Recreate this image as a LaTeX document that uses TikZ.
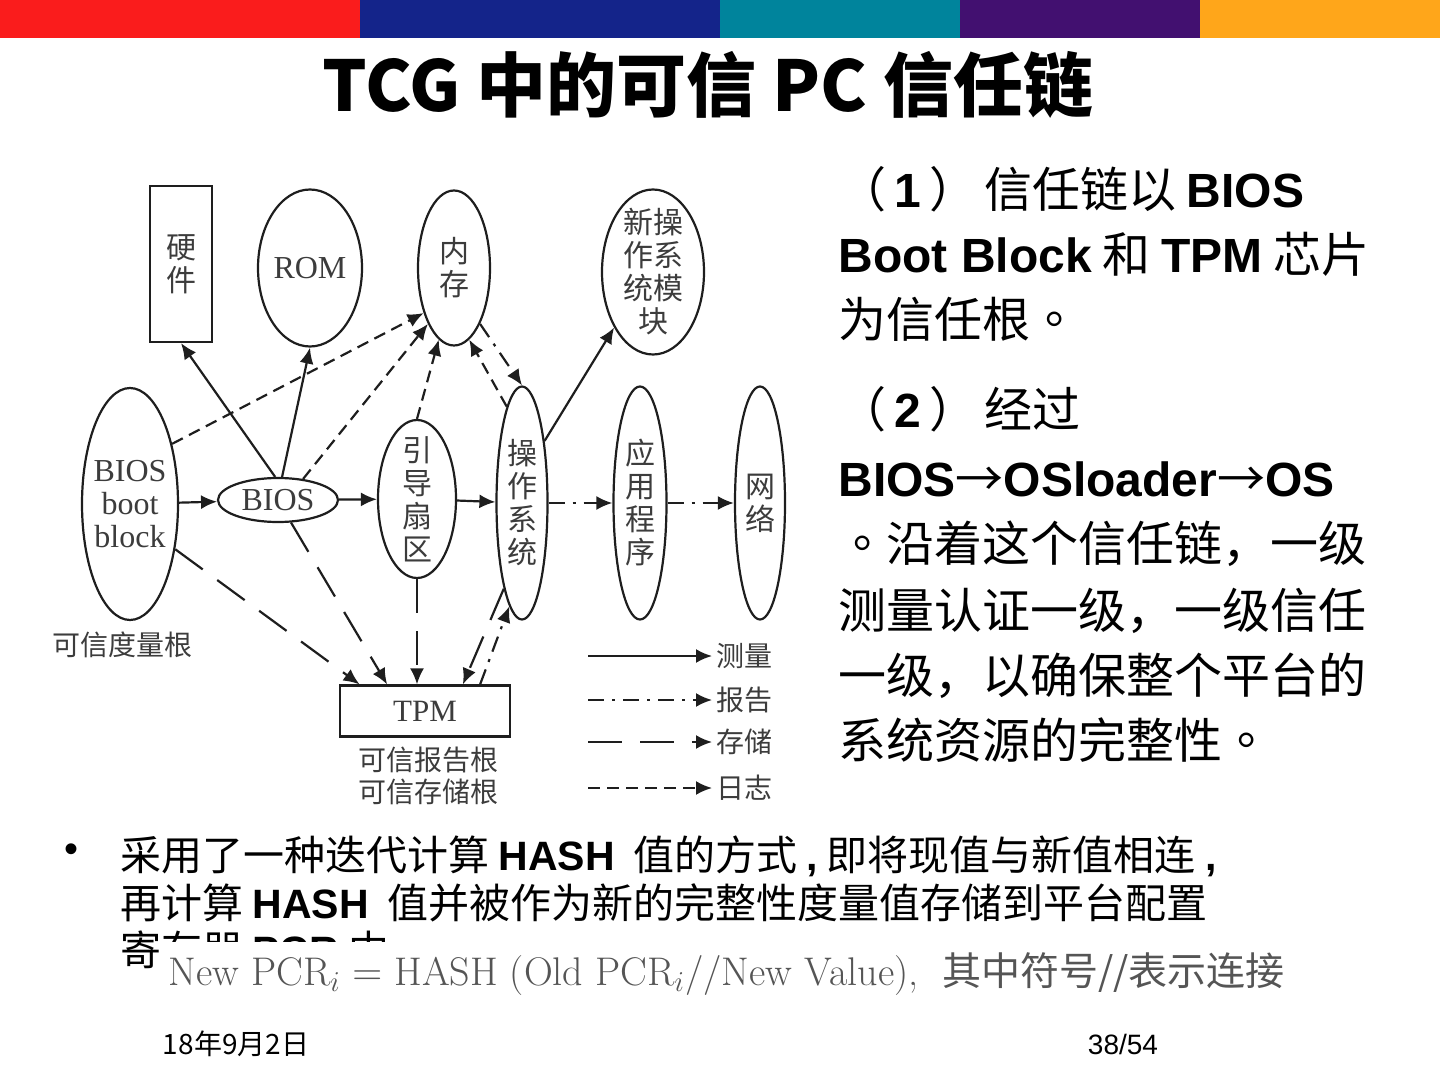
\documentclass[tikz,border=0pt]{standalone}
\usepackage{fontspec}
\newfontfamily\cjk{Noto Sans CJK SC}
\newfontfamily\cjktc{Noto Sans CJK TC}
\newfontfamily\arial{Liberation Sans}
\newfontfamily\figserif{Liberation Serif}
\usetikzlibrary{calc, arrows.meta, shapes.geometric}
\definecolor{barred}{RGB}{250,28,28}
\definecolor{barblue}{RGB}{20,36,138}
\definecolor{barteal}{RGB}{0,132,156}
\definecolor{barpurple}{RGB}{66,16,112}
\definecolor{barorange}{RGB}{255,166,26}
\definecolor{figline}{RGB}{30,30,30}
\definecolor{figtext}{RGB}{60,60,60}
\definecolor{formgray}{RGB}{85,85,85}
\newcommand{\B}[1]{{\arial\bfseries #1}}
\newcommand{\cnstop}{{\cjktc 。}}

\begin{document}
\begin{tikzpicture}[x=0.5pt, y=-0.5pt,
  oval/.style={draw=figline, ellipse, line width=1.1pt, inner sep=0pt, align=center,
    font=\cjk\fontsize{15}{16.5}\selectfont, text=figtext},
  box/.style={draw=figline, rectangle, line width=1.1pt, inner sep=0pt, align=center,
    text=figtext},
  lbl/.style={font=\cjk\fontsize{14}{16}\selectfont, text=figtext, align=center},
  meas/.style={line width=1.1pt, draw=figline, -{Latex[length=8pt,width=7pt]}},
  rep/.style={meas, dash pattern=on 8pt off 4pt on 1.5pt off 4pt},
  stor/.style={meas, dash pattern=on 17pt off 9pt},
  logd/.style={meas, dash pattern=on 6pt off 3.5pt},
  body/.style={font=\cjk\fontsize{24}{24}\selectfont, anchor=base west, inner sep=0pt},
  bullet/.style={font=\cjk\fontsize{20.5}{20.5}\selectfont, anchor=base west, inner sep=0pt},
]
\useasboundingbox (0,0) rectangle (1440,1080);
% colour bar
\foreach \xa/\xb/\c in {0/360/barred, 360/720/barblue, 720/960/barteal,
    960/1200/barpurple, 1200/1440/barorange}
  \fill[\c] (\xa,0) rectangle (\xb,38);

% title
\node[font=\cjk\bfseries\fontsize{35}{35}\selectfont] (title) at (708,85)
  {TCG 中的可信 PC 信任链};

% diagram nodes
\node[box, minimum width=31pt, minimum height=78pt,
  font=\cjk\fontsize{15}{16.5}\selectfont] (hw) at (181,264) {硬\\件};
\node[oval, minimum width=52pt, minimum height=78.5pt,
  font=\figserif\fontsize{16}{16}\selectfont] (rom) at (310,268) {ROM};
\node[oval, minimum width=36pt, minimum height=77.5pt] (mem) at (454,268) {内\\存};
\node[oval, minimum width=51pt, minimum height=82.5pt, inner ysep=-3pt]
  (newos) at (653,272) {新操\\作系\\统模\\块};
\node[oval, minimum width=48pt, minimum height=116pt, inner xsep=-1.5pt,
  font=\figserif\fontsize{16}{16.5}\selectfont] (bbb) at (130,504) {BIOS\\boot\\block};
\node[oval, minimum width=60pt, minimum height=22pt,
  font=\figserif\fontsize{16}{16}\selectfont] (bios) at (278,500) {BIOS};
\node[oval, minimum width=39pt, minimum height=79pt, inner ysep=-4pt]
  (boot) at (417,499) {引\\导\\扇\\区};
\node[oval, minimum width=25.5pt, minimum height=116.5pt] (os) at (522,503) {操\\作\\系\\统};
\node[oval, minimum width=26.5pt, minimum height=116.5pt] (app) at (640,503) {应\\用\\程\\序};
\node[oval, minimum width=25pt, minimum height=116.5pt] (net) at (760,503) {网\\络};
\node[box, minimum width=85pt, minimum height=25.5pt,
  font=\figserif\fontsize{15.5}{16}\selectfont] (tpm) at (425,711) {TPM};
\node[lbl] (rtm) at (122,645) {可信度量根};
\node[lbl] (rtr) at (428,776) {可信报告根\\可信存储根};

% measure
\draw[meas] (bbb) -- (bios);
\draw[meas] (bios) -- (boot);
\draw[meas] (boot) -- (os);
\draw[meas] (bios.97) -- (hw.south);
\draw[meas] (bios.80) -- (rom.south);
\draw[meas] (os.70) -- (newos.235);
% log
\draw[logd] (bbb.55) -- (mem.236);
\draw[logd] (bios.40) -- (mem.245);
\draw[logd] (boot.north) -- (mem.258);
\draw[logd] (os.99) -- (mem.282);
% store
\draw[stor] (bbb.-45) -- ($(tpm.north west)!0.12!(tpm.north east)$);
\draw[stor] (bios.-60) -- ($(tpm.north west)!0.28!(tpm.north east)$);
\draw[stor] (boot.south) -- (boot.south |- tpm.north);
\draw[stor] (os.258) -- ($(tpm.north west)!0.72!(tpm.north east)$);
% report
\draw[rep] (mem.295) -- (os.90);
\draw[rep] ($(tpm.north west)!0.82!(tpm.north east)$) -- (os.263);
\draw[rep] (os) -- (app);
\draw[rep] (app) -- (net);

% legend
\foreach \y/\s/\t in {656/meas/测量, 700/rep/报告, 742/stor/存储, 788/logd/日志} {
  \coordinate (leg\y) at (588,\y);
  \node[lbl, anchor=west, inner sep=2pt] (legl\y) at (712,\y) {\t};
  \draw[\s] (leg\y) -- (legl\y.west);
}

% right column
\node[body] (r1) at (838,208) {（\hspace{4pt}\B{1}\hspace{4pt}）\hspace{3.5pt}信任链以 \B{BIOS}};
\node[body] (r2) at (838,273) {\B{Boot Block} 和 \B{TPM} 芯片};
\node[body] (r3) at (838,338) {为信任根\cnstop};
\node[body] (r4) at (838,428) {（\hspace{4pt}\B{2}\hspace{4pt}）\hspace{3.5pt}经过};
\node[body] (r5) at (838,496) {\B{BIOS}→\B{OSloader}→\B{OS}};
\node[body] (r6) at (838,561) {\cnstop 沿着这个信任链，一级};
\node[body] (r7) at (838,628) {测量认证一级，一级信任};
\node[body] (r8) at (838,693) {一级，以确保整个平台的};
\node[body] (r9) at (838,758) {系统资源的完整性\cnstop};

% bullet text
\node[font=\arial\fontsize{20}{20}\selectfont] (dot) at (72,853) {•};
\node[bullet] (b1) at (120,870) {采用了一种迭代计算 \B{HASH}\ \ 值的方式 \B{,} 即将现值与新值相连 \B{,}};
\node[bullet] (b2) at (120,918) {再计算 \B{HASH}\ \ 值并被作为新的完整性度量值存储到平台配置};
\node[bullet] (b3) at (120,965) {寄存器 \B{PCR} 中};

% formula picture
\fill[white] (160,942) rectangle (1305,1002);
\node[font=\fontsize{20}{20}\selectfont, text=formgray, anchor=base west, inner sep=0pt]
  (form) at (168,985)
  {New PCR$_i=$ HASH (Old PCR$_i$//New Value),\hspace{12pt}{\cjk\fontsize{19.5}{19.5}\selectfont 其中符号//表示连接}};

% footer
\node[font=\cjk\fontsize{14}{14}\selectfont] (date) at (236,1044) {18年9月2日};
\node[font=\arial\fontsize{14}{14}\selectfont] (page) at (1123,1044) {38/54};
\end{tikzpicture}
\end{document}
